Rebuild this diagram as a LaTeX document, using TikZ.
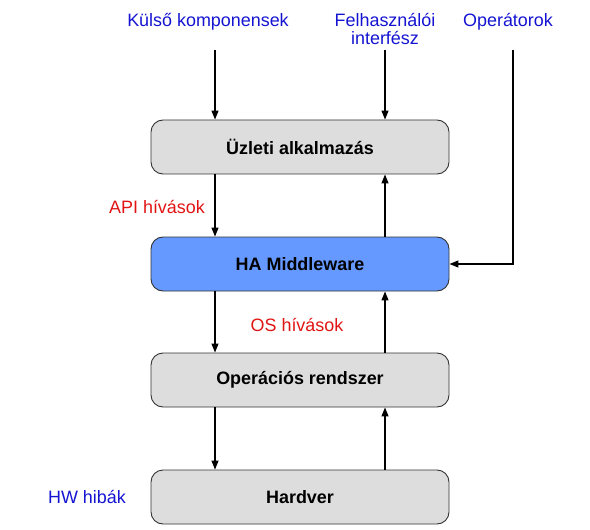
\documentclass[tikz,border=0pt]{standalone}
\usepackage{fontspec}
\setmainfont{Liberation Sans}
\usetikzlibrary{arrows.meta}
\definecolor{boxgray}{RGB}{221,221,221}
\definecolor{boxblue}{RGB}{102,153,255}
\definecolor{lblue}{RGB}{20,20,210}
\definecolor{lred}{RGB}{225,20,20}
\begin{document}
\begin{tikzpicture}[x=1bp,y=-1bp,
  layer/.style={draw=black!80, line width=0.9bp, rounded corners=12bp, minimum width=298bp, minimum height=54bp, inner sep=0pt, font=\fontsize{18}{20}\selectfont\bfseries},
  lab/.style={font=\fontsize{18}{19}\selectfont, inner sep=0pt, align=center},
  arr/.style={-{Triangle[length=9bp,width=7bp]}, line width=1.2bp}]
\useasboundingbox (0,0) rectangle (590,530);
\node[layer, fill=boxgray] (app) at (300,147) {Üzleti alkalmazás};
\node[layer, fill=boxblue] (ha) at (300,264) {HA Middleware};
\node[layer, fill=boxgray] (os) at (300,380) {Operációs rendszer};
\node[layer, fill=boxgray] (hw) at (300,497) {Hardver};
\node[lab, text=lblue] (ext) at (208,22) {Külső komponensek};
\node[lab, text=lblue] (ui) at (385,29) {Felhasználói\\interfész};
\node[lab, text=lblue] (ops) at (508,22) {Operátorok};
\node[lab, text=lred] (api) at (157,207) {API hívások};
\node[lab, text=lred] (osc) at (297,325) {OS hívások};
\node[lab, text=lblue] (hwe) at (87,497) {HW hibák};
\coordinate (c1) at (215,50);
\coordinate (c2) at (385,50);
\coordinate (c3) at (513,50);
\draw[arr] (c1) -- (app.north -| c1);
\draw[arr] (c2) -- (app.north -| c2);
\draw[arr] (c3) |- (ha.east);
\draw[arr] (app.south -| c1) -- (ha.north -| c1);
\draw[arr] (ha.north -| c2) -- (app.south -| c2);
\draw[arr] (ha.south -| c1) -- (os.north -| c1);
\draw[arr] (os.north -| c2) -- (ha.south -| c2);
\draw[arr] (os.south -| c1) -- (hw.north -| c1);
\draw[arr] (hw.north -| c2) -- (os.south -| c2);
\end{tikzpicture}
\end{document}
